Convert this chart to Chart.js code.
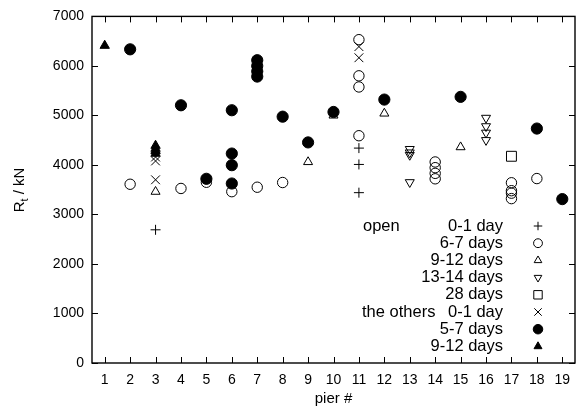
<!DOCTYPE html>
<html>
<head>
<meta charset="utf-8">
<script src="https://cdn.jsdelivr.net/npm/chart.js@4"></script>
<style>
  body { margin: 0; background: #fff; }
  #wrap { width: 583px; height: 410px; }
</style>
</head>
<body>
<div id="wrap"><canvas id="chartPiers" width="583" height="410"></canvas></div>
<script>
// pier numbers on the x axis
var piers = [1, 2, 3, 4, 5, 6, 7, 8, 9, 10, 11, 12, 13, 14, 15, 16, 17, 18, 19];
var yTicks = [0, 1000, 2000, 3000, 4000, 5000, 6000, 7000];

// series labels (legend)
var seriesNames = ['0-1 day', '6-7 days', '9-12 days', '13-14 days', '28 days', '0-1 day', '5-7 days', '9-12 days'];

// open piers
var open01x = [3, 11, 11, 11];
var open01y = [2690, 4340, 4010, 3440];
var open67x = [2, 4, 5, 6, 7, 8, 11, 11, 11, 11, 14, 14, 14, 14, 17, 17, 17, 17, 18];
var open67y = [3610, 3525, 3650, 3460, 3550, 3645, 6530, 5800, 5575, 4590, 4060, 3945, 3830, 3720, 3640, 3480, 3430, 3320, 3725];
var open912x = [3, 9, 10, 12, 15];
var open912y = [3460, 4060, 5000, 5040, 4360];
var open1314x = [13, 13, 13, 13, 16, 16, 16, 16];
var open1314y = [4320, 4250, 4200, 3650, 4950, 4780, 4650, 4500];
var open28x = [17];
var open28y = [4175];

// the others
var oth01x = [3, 3, 3, 11, 11];
var oth01y = [4160, 4080, 3700, 6390, 6165];
var oth57x = [2, 4, 5, 6, 6, 6, 6, 7, 7, 7, 7, 8, 9, 10, 12, 15, 18, 19];
var oth57y = [6335, 5205, 3720, 5105, 4230, 3995, 3625, 6115, 6000, 5890, 5785, 4975, 4455, 5070, 5320, 5375, 4735, 3310];
var oth912x = [1, 3, 3, 3, 3];
var oth912y = [6410, 4390, 4330, 4280, 4230];

function pts(xs, ys) {
    return xs.map(function(x, i) { return {x: x, y: ys[i]}; });
}

// marker styles, same order as seriesNames
var markers = [
    {pointStyle: 'cross', radius: 5, rotation: 0, fill: false},
    {pointStyle: 'circle', radius: 5.2, rotation: 0, fill: false},
    {pointStyle: 'triangle', radius: 5.2, rotation: 0, fill: false},
    {pointStyle: 'triangle', radius: 5.2, rotation: 180, fill: false},
    {pointStyle: 'rect', radius: 7, rotation: 0, fill: false},
    {pointStyle: 'crossRot', radius: 6.2, rotation: 0, fill: false},
    {pointStyle: 'circle', radius: 5.6, rotation: 0, fill: true},
    {pointStyle: 'triangle', radius: 5.4, rotation: 0, fill: true}
];

var seriesData = [
    pts(open01x, open01y), pts(open67x, open67y), pts(open912x, open912y),
    pts(open1314x, open1314y), pts(open28x, open28y),
    pts(oth01x, oth01y), pts(oth57x, oth57y), pts(oth912x, oth912y)
];

var font = "'Liberation Sans', Arial, sans-serif";

var datasets = seriesData.map(function(d, i) {
    var m = markers[i];
    return {
        label: seriesNames[i],
        data: d,
        order: seriesData.length - i,
        pointStyle: m.pointStyle,
        pointRadius: m.radius,
        pointRotation: m.rotation,
        pointBorderWidth: 1,
        pointBorderColor: '#000',
        pointBackgroundColor: m.fill ? '#000' : 'rgba(0,0,0,0)',
        showLine: false
    };
});

// frame, inward ticks, y title with subscript, legend
var decorPlugin = {
    id: 'decor',
    afterDraw: function(chart) {
        var ctx = chart.ctx;
        var a = chart.chartArea;
        var xs = chart.scales.x, ys = chart.scales.y;
        ctx.save();
        ctx.strokeStyle = '#000';
        ctx.lineWidth = 1.4;
        ctx.strokeRect(a.left, a.top, a.right - a.left, a.bottom - a.top);
        ctx.lineWidth = 1;
        ctx.beginPath();
        piers.forEach(function(p) {
            var px = Math.round(xs.getPixelForValue(p)) + 0.5;
            ctx.moveTo(px, a.bottom); ctx.lineTo(px, a.bottom - 6);
            ctx.moveTo(px, a.top); ctx.lineTo(px, a.top + 6);
        });
        yTicks.forEach(function(v) {
            var py = Math.round(ys.getPixelForValue(v)) + 0.5;
            ctx.moveTo(a.left, py); ctx.lineTo(a.left + 6, py);
            ctx.moveTo(a.right, py); ctx.lineTo(a.right - 6, py);
        });
        ctx.stroke();

        // y axis title R_t / kN
        ctx.fillStyle = '#000';
        ctx.translate(24, 190);
        ctx.rotate(-Math.PI / 2);
        ctx.textBaseline = 'alphabetic';
        ctx.font = '15px ' + font;
        var wR = ctx.measureText('R').width;
        ctx.font = '11px ' + font;
        var wt = ctx.measureText('t').width;
        ctx.font = '15px ' + font;
        var wRest = ctx.measureText(' / kN').width;
        var start = -(wR + wt + wRest) / 2;
        ctx.textAlign = 'left';
        ctx.fillText('R', start, 0);
        ctx.font = '11px ' + font;
        ctx.fillText('t', start + wR, 4);
        ctx.font = '15px ' + font;
        ctx.fillText(' / kN', start + wR + wt, 0);
        ctx.restore();

        // legend
        ctx.save();
        ctx.font = '16.5px ' + font;
        ctx.fillStyle = '#000';
        ctx.textBaseline = 'middle';
        var textRight = 503, symX = 538, rowY0 = 226, rowH = 17.2;
        ctx.textAlign = 'left';
        ctx.fillText('open', 363, rowY0);
        ctx.fillText('the others', 362, rowY0 + 5 * rowH);
        seriesNames.forEach(function(name, i) {
            var y = rowY0 + i * rowH;
            ctx.textAlign = 'right';
            ctx.fillStyle = '#000';
            ctx.fillText(name, textRight, y);
            var m = markers[i];
            ctx.strokeStyle = '#000';
            ctx.lineWidth = 1;
            ctx.fillStyle = m.fill ? '#000' : 'rgba(0,0,0,0)';
            Chart.helpers.drawPoint(ctx, {
                pointStyle: m.pointStyle,
                rotation: m.rotation,
                radius: m.radius * 0.85,
                borderWidth: 1
            }, symX, y);
        });
        ctx.restore();
    }
};

var config = {
    type: 'scatter',
    data: { datasets: datasets },
    options: {
        responsive: false,
        animation: false,
        layout: { padding: { top: 16, right: 5, left: 0, bottom: 0 } },
        plugins: {
            legend: { display: false },
            tooltip: { enabled: false }
        },
        scales: {
            x: {
                type: 'linear',
                min: 0.5,
                max: 19.5,
                afterBuildTicks: function(scale) {
                    scale.ticks = piers.map(function(p) { return {value: p}; });
                },
                afterFit: function(scale) { scale.height = 47; },
                grid: { display: false, drawTicks: false },
                border: { display: false },
                ticks: {
                    color: '#000',
                    padding: 9,
                    maxRotation: 0,
                    autoSkip: false,
                    font: { family: font, size: 14 },
                    callback: function(v) { return String(v); }
                },
                title: {
                    display: true,
                    text: 'pier #',
                    color: '#000',
                    padding: { top: 0, bottom: 2 },
                    font: { family: font, size: 15 }
                }
            },
            y: {
                type: 'linear',
                min: 0,
                max: 7000,
                afterBuildTicks: function(scale) {
                    scale.ticks = yTicks.map(function(v) { return {value: v}; });
                },
                afterFit: function(scale) { scale.width = 92; },
                grid: { display: false, drawTicks: false },
                border: { display: false },
                ticks: {
                    color: '#000',
                    padding: 8,
                    font: { family: font, size: 14 },
                    callback: function(v) { return String(v); }
                }
            }
        }
    },
    plugins: [decorPlugin]
};

var chart = new Chart(document.getElementById('chartPiers'), config);
</script>
</body>
</html>
